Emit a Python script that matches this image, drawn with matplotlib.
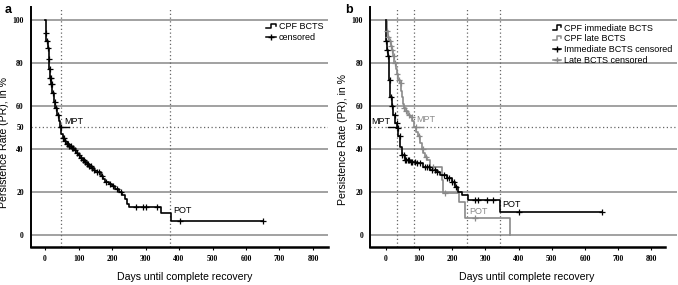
import numpy as np
import matplotlib.pyplot as plt
from matplotlib.lines import Line2D
from matplotlib.legend_handler import HandlerBase

# Panel a: CPF BCTS (Kaplan-Meier steps)
a_t = [0, 2, 4, 8, 11, 13, 15, 18, 22, 26, 30, 35, 40, 45, 48, 52, 57, 63, 70, 78, 86, 92, 98,
       105, 112, 118, 124, 130, 138, 145, 150, 168, 173, 178, 190, 200, 210, 220, 230, 238,
       245, 250, 345, 375, 652]
a_s = [100, 94, 90, 87, 82, 77, 73, 70, 66, 62, 59, 56, 53, 50, 47, 45, 43.5, 42.5, 41.5, 40.5,
       39.5, 38, 37, 36, 35, 34, 33, 32, 31, 30, 29.5, 27.5, 26, 24.8, 23.5, 23, 21.5, 20, 18.6,
       16.5, 14.5, 13.2, 10.2, 6.6, 6.6]
a_cens = [3, 5, 9, 12, 14, 16, 17, 19, 21, 24, 29, 33, 38, 47, 53, 56, 60, 64, 68, 72, 76, 80, 84,
          90, 95, 102, 108, 114, 116, 120, 125, 128, 132, 136, 140, 146, 155, 162, 170, 183, 195,
          203, 215, 226, 270, 292, 300, 333, 403, 651]

# Panel b: immediate BCTS
imm_t = [0, 1, 3, 6, 9, 11, 13, 18, 23, 28, 35, 38, 43, 48, 58, 73, 93, 114, 134, 154, 164,
         184, 199, 209, 219, 229, 248, 345, 652]
imm_s = [100, 90, 86, 83, 77, 72, 64, 60, 56, 52, 49.6, 46, 41, 37, 35, 34, 33.3, 31.8, 30,
         29.5, 28, 26.4, 24.8, 22.5, 20, 18.6, 16.3, 10.9, 10.9]
imm_cens = [2, 4, 7, 12, 15, 20, 27, 33, 36, 42, 50, 55, 58, 62, 66, 70, 75, 80, 88, 95, 105,
            118, 125, 130, 140, 148, 155, 175, 185, 192, 200, 205, 213, 269, 278, 305, 324,
            402, 651]

# Panel b: late BCTS
late_t = [0, 3, 6, 10, 15, 18, 22, 26, 30, 33, 37, 42, 46, 48, 51, 54, 60, 66, 73, 80, 86, 92,
          98, 104, 109, 114, 119, 125, 134, 169, 174, 222, 240, 373]
late_s = [100, 95, 92, 90, 88, 86, 83, 80, 77, 75, 72, 70.5, 67, 64, 61, 59, 57.5, 56, 55, 53,
          50, 48, 46, 43, 40, 38, 36.4, 35, 31.8, 25.6, 19.4, 15.5, 7.8, 0]
late_cens = [4, 8, 12, 16, 20, 24, 28, 35, 40, 45, 55, 62, 70, 78, 90, 100, 112, 122, 144, 180, 268]

y_ticks = [0, 20, 40, 50, 60, 80, 100]
x_ticks = [0, 100, 200, 300, 400, 500, 600, 700, 800]

GRAY = '#8a8a8a'
GRID = '#9a9a9a'


class StepHandler(HandlerBase):
    def create_artists(self, legend, orig_handle, xdescent, ydescent, width, height, fontsize, trans):
        x0 = -xdescent
        y0 = -ydescent
        xs = [x0, x0 + width * 0.5, x0 + width * 0.5, x0 + width, x0 + width]
        ys = [y0 + height * 0.15, y0 + height * 0.15, y0 + height * 0.85, y0 + height * 0.85, y0 + height * 0.5]
        ln = Line2D(xs, ys, color=orig_handle.get_color(), lw=1.1)
        ln.set_transform(trans)
        return [ln]


def step_value(t, s, c):
    idx = np.searchsorted(t, c, side='right') - 1
    return np.array(s)[idx]


def km(ax, t, s, cens, color):
    ax.plot(t, s, drawstyle='steps-post', color=color, lw=1.2, zorder=4)
    ax.plot(cens, step_value(t, s, cens), ls='none', marker='+', ms=4, mew=0.9, color=color, zorder=5)


def base(ax, xlim, vlines):
    ax.set_xlim(*xlim)
    ax.set_ylim(-5.6, 106)
    for y in [0, 20, 40, 60, 80, 100]:
        ax.axhline(y, color=GRID, lw=1.3, zorder=1)
    ax.axhline(50, color='#666666', lw=0.9, ls=(0, (1, 2)), zorder=2)
    for v in vlines:
        ax.axvline(v, color='#666666', lw=0.9, ls=(0, (1, 2)), zorder=2)
    for sp in ['top', 'right']:
        ax.spines[sp].set_visible(False)
    ax.spines['left'].set_linewidth(1.4)
    ax.spines['bottom'].set_linewidth(1.8)
    ax.set_yticks(y_ticks)
    ax.set_xticks(x_ticks)
    ax.tick_params(axis='y', length=0, pad=5)
    ax.tick_params(axis='x', length=2.5, width=0.8, pad=3)
    for lab in ax.get_xticklabels() + ax.get_yticklabels():
        lab.set_fontfamily('Liberation Serif')
        lab.set_fontweight('bold')
        lab.set_fontsize(5.5)
    ax.set_ylabel('Persistence Rate (PR), in %', fontsize=7.6, family='Liberation Sans')
    ax.set_xlabel('Days until complete recovery', fontsize=7.6, family='Liberation Sans')


fig = plt.figure(figsize=(6.78, 2.85), dpi=100)
ax1 = fig.add_axes([0.0453, 0.1333, 0.4385, 0.842])
ax2 = fig.add_axes([0.5457, 0.1333, 0.4528, 0.842])

# panel a
base(ax1, (-43, 845), [48, 372])
km(ax1, a_t, a_s, a_cens, 'black')
ax1.plot([40, 70], [50, 50], color='black', lw=1.0, zorder=5)
ax1.text(57, 53, 'MPT', fontsize=6.5, family='Liberation Sans', va='center', ha='left')
ax1.text(383, 11.5, 'POT', fontsize=6.5, family='Liberation Sans', va='center', ha='left')
ax1.yaxis.set_label_coords(-0.072, 0.4375)
ax1.xaxis.set_label_coords(0.519, -0.105)
h1 = [Line2D([], [], color='black'),
      Line2D([], [], color='black', lw=1.1, marker='+', ms=5, mew=1)]
leg1 = ax1.legend(h1, ['CPF BCTS', 'censored'], loc='upper right', bbox_to_anchor=(1.0, 0.955),
                  frameon=False, prop={'family': 'Liberation Sans', 'size': 6.5},
                  handlelength=1.1, handletextpad=0.3, labelspacing=0.15, borderpad=0,
                  handler_map={h1[0]: StepHandler()})

# panel b
base(ax2, (-47, 877), [35, 85, 246, 345])
km(ax2, late_t, late_s, late_cens, GRAY)
km(ax2, imm_t, imm_s, imm_cens, 'black')
ax2.spines['bottom'].set_bounds(-47, 841)
ax2.plot([8, 38], [50, 50], color='black', lw=1.0, zorder=5)
ax2.plot([79, 113], [50, 50], color=GRAY, lw=1.0, zorder=5)
ax2.text(13, 53, 'MPT', fontsize=6.5, family='Liberation Sans', va='center', ha='right')
ax2.text(93, 53.5, 'MPT', fontsize=6.5, family='Liberation Sans', va='center', ha='left', color=GRAY)
ax2.text(352, 14.2, 'POT', fontsize=6.5, family='Liberation Sans', va='center', ha='left')
ax2.text(252, 10.8, 'POT', fontsize=6.5, family='Liberation Sans', va='center', ha='left', color=GRAY)
ax2.yaxis.set_label_coords(-0.072, 0.446)
ax2.xaxis.set_label_coords(0.51, -0.105)
h2 = [Line2D([], [], color='black'), Line2D([], [], color=GRAY),
      Line2D([], [], color='black', lw=1.1, marker='+', ms=5, mew=1),
      Line2D([], [], color=GRAY, lw=1.1, marker='+', ms=5, mew=1)]
ax2.legend(h2, ['CPF immediate BCTS', 'CPF late BCTS', 'Immediate BCTS censored', 'Late BCTS censored'],
           loc='upper right', bbox_to_anchor=(1.0, 0.95), frameon=False,
           prop={'family': 'Liberation Sans', 'size': 6.5},
           handlelength=0.9, handletextpad=0.3, labelspacing=0.2, borderpad=0,
           handler_map={h2[0]: StepHandler(), h2[1]: StepHandler()})

fig.text(5 / 678, 1 - 13 / 285, 'a', fontsize=9, fontweight='bold', family='Liberation Sans', va='baseline')
fig.text(345 / 678, 1 - 13 / 285, 'b', fontsize=9, fontweight='bold', family='Liberation Sans', va='baseline')

fig.savefig('out.png', dpi=100)
